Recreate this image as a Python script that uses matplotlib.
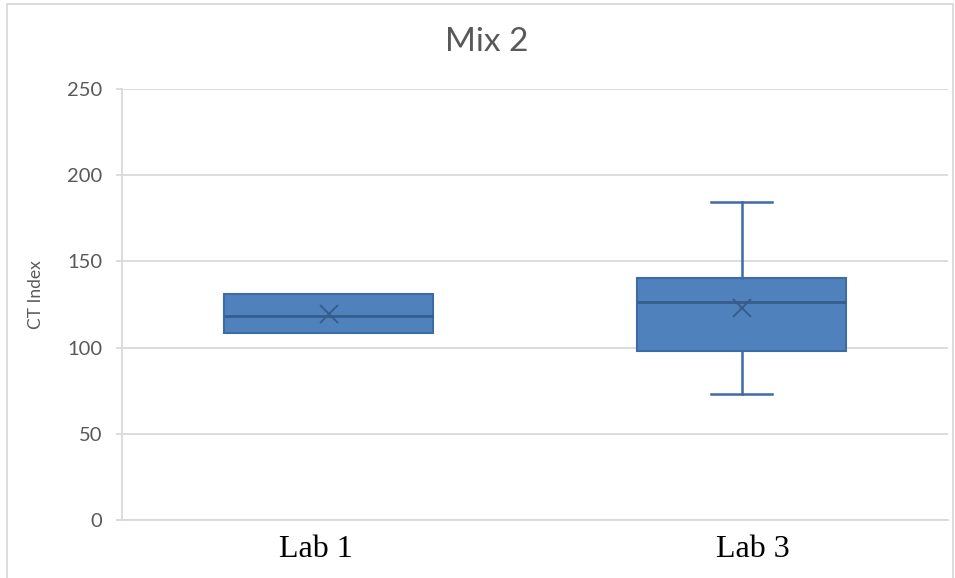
import matplotlib.pyplot as plt
from matplotlib.patches import Rectangle

# data
labs = ['Lab 1', 'Lab 3']
q1 = [108.5, 98.2]
med = [118.5, 126.3]
q3 = [131.1, 140.2]
lo = [108.5, 73.3]
hi = [131.1, 184.3]
means = [119.5, 122.8]
yticks = [0, 50, 100, 150, 200, 250]

fill = '#4F81BD'
edge = '#3D6BA4'
dark = '#385D8A'
grid = '#D9D9D9'
txt = '#595959'

fig = plt.figure(figsize=(9.55, 5.78), dpi=100)
ax = fig.add_axes([122/955, 58/578, 826/955, 431/578])

stats = []
for i in range(len(labs)):
    stats.append(dict(label=labs[i], q1=q1[i], med=med[i], q3=q3[i],
                      whislo=lo[i], whishi=hi[i], mean=means[i], fliers=[]))

pos = [0.5, 1.5]
ax.bxp(stats, positions=pos, widths=0.506, patch_artist=True, showmeans=True,
       capwidths=[0.0, 0.15],
       boxprops=dict(facecolor=fill, edgecolor=edge, linewidth=1.5),
       medianprops=dict(color=dark, linewidth=2),
       whiskerprops=dict(color=edge, linewidth=1.8),
       capprops=dict(color=edge, linewidth=1.8),
       meanprops=dict(marker='x', markeredgecolor=dark, markersize=13, markeredgewidth=1.4),
       zorder=3)

ax.set_xlim(0, 2)
ax.set_ylim(0, 250)
ax.set_yticks(yticks)
ax.yaxis.grid(True, color=grid, linewidth=1.3)
ax.set_axisbelow(True)
for s in ['top', 'right']:
    ax.spines[s].set_visible(False)
for s in ['left', 'bottom']:
    ax.spines[s].set_color(grid)
    ax.spines[s].set_linewidth(1.3)
ax.tick_params(axis='y', colors=grid, length=4, width=1.3, labelcolor=txt,
               labelsize=14.5, pad=10)
for t in ax.get_yticklabels():
    t.set_fontfamily('Lato')

# category labels are separate text boxes in the original, slightly off the box centres
ax.set_xticks([0.4685, 1.528])
ax.set_xticklabels(labs, fontfamily='Liberation Serif', fontsize=23, color='black')
ax.tick_params(axis='x', length=0, pad=11)

fig.text(36/955, 1 - 295/578, 'CT Index', rotation=90, ha='center', va='center',
         fontfamily='Lato', fontsize=12.5, color=txt)
fig.text(487/955, 1 - 42/578, 'Mix 2', ha='center', va='center',
         fontfamily='Lato', fontsize=24, color=txt)

fig.patches.append(Rectangle((7/955, -0.05), 946/955, 1.05 - 4/578,
                             transform=fig.transFigure, fill=False,
                             edgecolor=grid, linewidth=1.3))

fig.savefig('out.png', dpi=100)
